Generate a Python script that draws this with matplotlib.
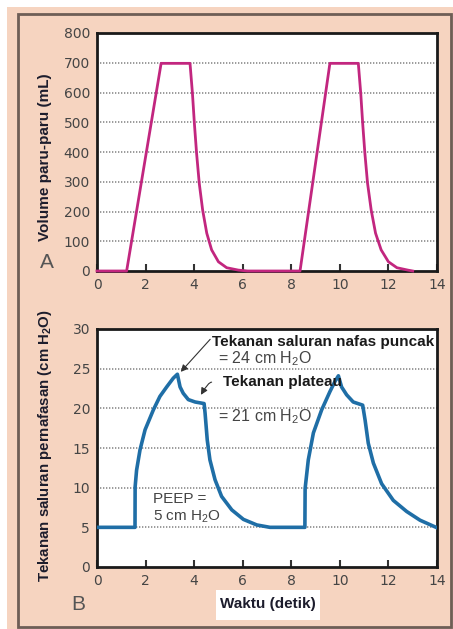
import matplotlib.pyplot as plt
from matplotlib.patches import Rectangle

# waktu (detik) dan volume paru-paru (mL)
vol_time = [0, 1.22, 2.64, 3.83, 3.93, 4.01, 4.10, 4.21, 4.35, 4.52, 4.72, 5.0, 5.34, 5.82, 6.2,
            8.36, 9.59, 10.76, 10.86, 10.94, 11.03, 11.14, 11.29, 11.47, 11.7, 12.0, 12.35, 12.8, 13.0]
vol_ml = [0, 0, 698, 698, 597, 496, 396, 295, 205, 127, 71, 31, 11, 3, 0,
          0, 698, 698, 597, 496, 396, 295, 205, 127, 71, 31, 11, 3, 0]

# waktu (detik) dan tekanan saluran pernafasan (cm H2O)
prs_time = [0, 1.565, 1.57, 1.63, 1.77, 1.98, 2.32, 2.59, 2.87, 3.14, 3.31,
            3.42, 3.55, 3.76, 4.04, 4.41,
            4.45, 4.54, 4.65, 4.86, 5.13, 5.55, 6.03, 6.58, 7.12, 8.0,
            8.56, 8.57, 8.70, 8.91, 9.25, 9.59, 9.80, 9.94,
            10.07, 10.28, 10.55, 10.94,
            11.04, 11.17, 11.38, 11.72, 12.2, 12.75, 13.3, 13.96]
prs_cm = [5.0, 5.0, 10.1, 12.2, 14.75, 17.3, 19.8, 21.5, 22.7, 23.8, 24.3,
          22.7, 21.9, 21.1, 20.8, 20.6,
          19.4, 16.0, 13.5, 11.0, 8.9, 7.2, 6.0, 5.3, 5.0, 5.0,
          5.0, 9.9, 13.5, 16.9, 19.8, 22.1, 23.4, 24.1,
          22.7, 21.7, 20.8, 20.4,
          18.5, 15.6, 13.1, 10.5, 8.4, 7.0, 5.9, 5.0]

x_ticks = [0, 2, 4, 6, 8, 10, 12, 14]
vol_ticks = [0, 100, 200, 300, 400, 500, 600, 700, 800]
prs_ticks = [0, 5, 10, 15, 20, 25, 30]

plt.rcParams['font.family'] = ['Liberation Sans', 'DejaVu Sans']
plt.rcParams['mathtext.fontset'] = 'custom'
plt.rcParams['mathtext.rm'] = 'Liberation Sans'
plt.rcParams['mathtext.bf'] = 'Liberation Sans:bold'

W, H = 453, 629
fig = plt.figure(figsize=(W / 100, H / 100), dpi=100)
fig.patch.set_facecolor('white')

# latar peach + bingkai
fig.patches.append(Rectangle((7 / W, 0), 1, 1 - 7 / H, transform=fig.transFigure,
                             facecolor='#f6d4c0', edgecolor='none', zorder=-2))
fig.patches.append(Rectangle((18 / W, 2 / H), 433 / W, 1 - 16 / H, transform=fig.transFigure,
                             facecolor='none', edgecolor='#6e5e56', lw=2, zorder=-1))
# kotak putih di belakang label sumbu x
fig.patches.append(Rectangle((216 / W, 1 - 620 / H), 104 / W, 30 / H, transform=fig.transFigure,
                             facecolor='white', edgecolor='none', zorder=-1))

tick_col = '#454545'
lab_col = '#1c1c2c'


def style(ax, ymax, yticks, grid_vals):
    ax.set_facecolor('white')
    ax.set_xlim(0, 14)
    ax.set_ylim(0, ymax)
    ax.set_xticks(x_ticks)
    ax.set_yticks(yticks)
    for g in grid_vals:
        ax.axhline(g, color='#8a8a8a', lw=1.2, ls=(0, (0.8, 1.0)), zorder=1)
    for s in ax.spines.values():
        s.set_linewidth(2)
        s.set_color('#1a1a1a')
    ax.tick_params(axis='x', direction='in', length=5, width=1.5, color='#333333',
                   labelsize=10, labelcolor=tick_col, pad=5)
    ax.tick_params(axis='y', length=0, labelsize=10, labelcolor=tick_col, pad=5)
    for lb in ax.get_xticklabels() + ax.get_yticklabels():
        lb.set_family('DejaVu Sans')


axA = fig.add_axes([97 / W, 1 - 271 / H, 340 / W, 238 / H])
style(axA, 800, vol_ticks, vol_ticks[1:-1])
axA.plot(vol_time, vol_ml, color='#c2267f', lw=2, zorder=3, clip_on=False,
         solid_joinstyle='round')

axB = fig.add_axes([97 / W, 1 - 567 / H, 340 / W, 238 / H])
style(axB, 30, prs_ticks, prs_ticks[1:-1])
axB.plot(prs_time, prs_cm, color='#1f6ea6', lw=2.6, zorder=3, solid_joinstyle='round')

fig.text(45 / W, 1 - 157 / H, 'Volume paru-paru (mL)', rotation=90, ha='center', va='center',
         fontsize=11, fontweight='bold', color=lab_col)
fig.text(45 / W, 1 - 446 / H, 'Tekanan saluran pernafasan (cm H$_\\mathbf{2}$O)', rotation=90,
         ha='center', va='center', fontsize=10.8, fontweight='bold', color=lab_col)
fig.text(47 / W, 1 - 263 / H, 'A', ha='center', va='center', fontsize=15, color='#555555')
fig.text(78 / W, 1 - 605 / H, 'B', ha='center', va='center', fontsize=15, color='#555555')
fig.text(268 / W, 1 - 604 / H, 'Waktu (detik)', ha='center', va='center', fontsize=11,
         fontweight='bold', color=lab_col)

# anotasi
axB.annotate('', xy=(3.45, 24.6), xytext=(4.66, 28.7),
             arrowprops=dict(arrowstyle='-|>', color='#333333', lw=0.8, mutation_scale=10,
                             shrinkA=0, shrinkB=0), zorder=5)
axB.text(4.72, 28.3, 'Tekanan saluran nafas puncak', fontsize=11, fontweight='bold',
         color='#1a1a1a', va='center', ha='left')
axB.text(4.98, 26.2, '= 24 cm H$_2$O', fontsize=11.5, color='#444444', va='center', ha='left')
axB.annotate('', xy=(4.28, 21.7), xytext=(4.72, 23.3),
             arrowprops=dict(arrowstyle='-|>', color='#333333', lw=0.8, mutation_scale=10,
                             connectionstyle='angle3,angleA=0,angleB=60',
                             shrinkA=0, shrinkB=0), zorder=5)
axB.text(5.2, 23.3, 'Tekanan plateau', fontsize=11, fontweight='bold', color='#1a1a1a',
         va='center', ha='left')
axB.text(4.98, 18.9, '= 21 cm H$_2$O', fontsize=11.5, color='#444444', va='center', ha='left')
axB.text(2.31, 7.4, 'PEEP =\n5 cm H$_2$O', fontsize=11, color='#444444', va='center', ha='left',
         linespacing=1.2, bbox=dict(facecolor='white', edgecolor='none', pad=1), zorder=2)

fig.savefig('out.png', dpi=100)
